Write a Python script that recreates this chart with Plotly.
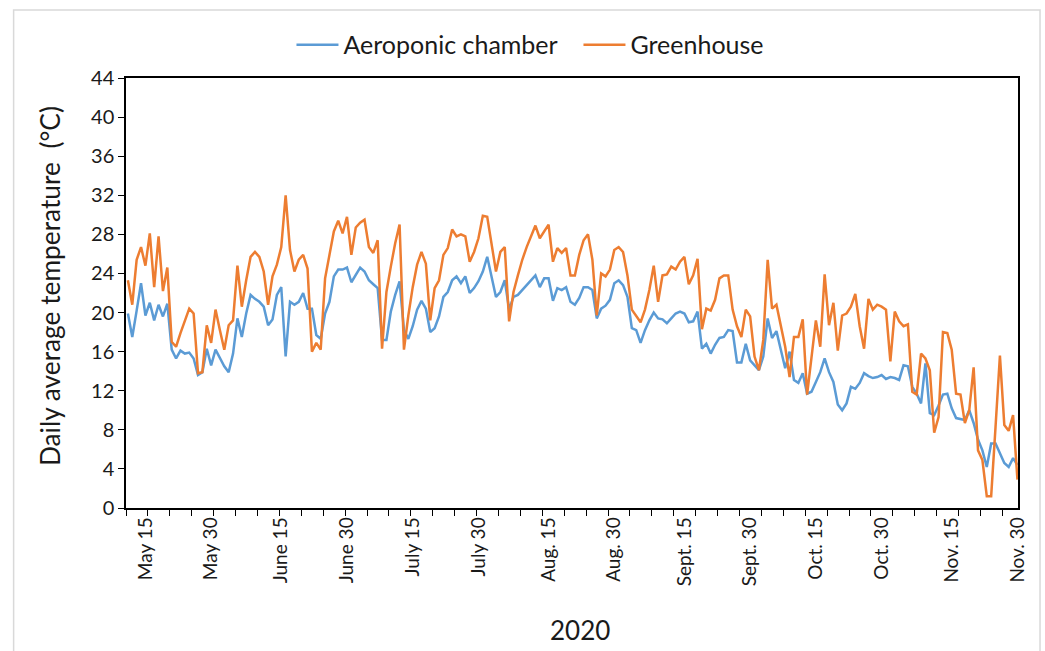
import pandas as pd
import plotly.graph_objects as go

# Daily series, 11 May - 30 Nov 2020
dates = pd.date_range("2020-05-11", "2020-11-30", freq="D")

aeroponic = [
    19.9, 17.5, 20.2, 23.0, 19.7, 21.0, 19.2, 20.8, 19.6, 20.9,
    16.2, 15.3, 16.1, 15.8, 15.9, 15.3, 13.6, 13.9, 16.3, 14.6,
    16.2, 15.3, 14.5, 13.9, 15.8, 19.4, 17.5, 19.9, 21.8, 21.4,
    21.1, 20.6, 18.7, 19.3, 21.8, 22.6, 15.5, 21.1, 20.8, 21.1,
    22.0, 20.4, 20.4, 17.7, 17.3, 19.9, 21.1, 23.7, 24.4, 24.4,
    24.6, 23.1, 23.8, 24.6, 24.2, 23.3, 22.9, 22.5, 17.2, 17.2,
    20.1, 21.8, 23.2, 18.2, 17.3, 18.6, 20.3, 21.2, 20.4, 18.0,
    18.4, 19.6, 21.6, 22.1, 23.3, 23.7, 23.0, 23.7, 22.0, 22.5,
    23.2, 24.2, 25.7, 23.7, 21.6, 22.1, 23.3, 20.3, 21.6, 21.8,
    22.3, 22.8, 23.3, 23.8, 22.6, 23.5, 23.5, 21.2, 22.5, 22.3,
    22.6, 21.1, 20.8, 21.5, 22.6, 22.6, 22.3, 19.4, 20.4, 20.7,
    21.3, 23.0, 23.3, 22.8, 21.6, 18.4, 18.2, 16.9, 18.2, 19.2,
    20.0, 19.4, 19.3, 18.9, 19.4, 19.9, 20.1, 19.9, 19.0, 19.1,
    20.1, 16.3, 16.8, 15.8, 16.7, 17.4, 17.5, 18.2, 18.1, 14.9,
    14.9, 16.8, 15.1, 14.6, 14.1, 15.5, 19.4, 17.4, 18.1, 16.2,
    14.3, 16.0, 13.1, 12.8, 13.8, 11.7, 11.9, 12.9, 13.9, 15.3,
    13.9, 12.9, 10.6, 10.0, 10.7, 12.4, 12.2, 12.8, 13.8, 13.5,
    13.3, 13.4, 13.6, 13.2, 13.4, 13.3, 13.1, 14.6, 14.5, 12.4,
    11.7, 10.7, 14.8, 9.7, 9.5, 10.5, 11.6, 11.7, 10.2, 9.2,
    9.1, 9.0, 10.0, 8.7, 7.0, 5.9, 4.2, 6.6, 6.6, 5.6,
    4.6, 4.2, 5.1, 4.4,
]

greenhouse = [
    23.3, 20.8, 25.4, 26.7, 24.8, 28.1, 22.6, 27.8, 22.2, 24.6,
    17.0, 16.5, 17.9, 19.2, 20.4, 19.9, 13.8, 13.9, 18.7, 16.9,
    20.3, 18.2, 16.2, 18.7, 19.2, 24.8, 20.6, 23.3, 25.7, 26.2,
    25.7, 24.2, 20.8, 23.7, 24.9, 26.7, 32.0, 26.4, 24.2, 25.4,
    25.9, 24.5, 16.0, 16.9, 16.2, 23.5, 25.9, 28.3, 29.4, 28.1,
    29.8, 25.9, 28.7, 29.2, 29.5, 26.7, 26.1, 27.4, 16.3, 22.1,
    24.7, 27.1, 29.0, 16.2, 19.7, 22.6, 24.9, 26.2, 25.0, 19.2,
    22.5, 23.3, 25.9, 26.6, 28.5, 27.8, 28.0, 27.8, 25.2, 26.2,
    27.6, 29.9, 29.8, 27.1, 24.2, 26.2, 26.7, 19.1, 22.1, 23.8,
    25.4, 26.7, 27.8, 28.9, 27.6, 28.3, 29.0, 25.2, 26.6, 26.1,
    26.6, 23.8, 23.8, 25.9, 27.4, 28.0, 25.4, 19.7, 24.0, 23.7,
    24.4, 26.4, 26.7, 26.2, 23.8, 20.3, 19.7, 19.0, 20.3, 22.3,
    24.8, 21.1, 23.8, 23.9, 24.7, 24.4, 25.2, 25.7, 22.9, 23.8,
    25.5, 18.3, 20.4, 20.2, 21.3, 23.5, 23.8, 23.8, 20.3, 18.6,
    17.5, 20.3, 19.6, 15.5, 14.1, 17.2, 25.4, 20.4, 20.8, 18.6,
    16.5, 13.4, 17.5, 17.5, 19.3, 11.6, 15.1, 19.2, 16.5, 23.9,
    18.7, 21.0, 16.1, 19.7, 19.9, 20.6, 21.9, 18.6, 16.3, 21.4,
    20.3, 20.8, 20.6, 20.3, 15.0, 20.1, 19.1, 18.6, 18.8, 11.9,
    11.6, 15.8, 15.3, 14.1, 7.7, 9.3, 18.0, 17.9, 16.2, 11.7,
    11.6, 8.7, 10.0, 14.4, 5.9, 4.9, 1.2, 1.2, 8.3, 15.6,
    8.5, 7.9, 9.5, 2.9,
]

tick_dates = [
    "2020-05-15", "2020-05-30", "2020-06-15", "2020-06-30", "2020-07-15",
    "2020-07-30", "2020-08-15", "2020-08-30", "2020-09-15", "2020-09-30",
    "2020-10-15", "2020-10-30", "2020-11-15", "2020-11-30",
]
tick_labels = [
    "May 15", "May 30", "June 15", "June 30", "July 15", "July 30",
    "Aug. 15", "Aug. 30", "Sept. 15", "Sept. 30", "Oct. 15", "Oct. 30",
    "Nov. 15", "Nov. 30",
]
y_ticks = list(range(0, 45, 4))

FONT = "Lato, Carlito, Calibri, sans-serif"
TEXT = "#1a1a1a"
BLUE = "#5B9BD5"
ORANGE = "#ED7D31"

fig = go.Figure()
fig.add_trace(go.Scatter(
    x=dates, y=aeroponic, mode="lines", name="Aeroponic chamber",
    line=dict(color=BLUE, width=2.5), legendwidth=230,
))
fig.add_trace(go.Scatter(
    x=dates, y=greenhouse, mode="lines", name="Greenhouse",
    line=dict(color=ORANGE, width=2.5),
))

fig.update_layout(
    width=1045, height=651,
    margin=dict(l=126, r=27, t=78, b=143),
    paper_bgcolor="white", plot_bgcolor="white",
    font=dict(family=FONT, color=TEXT),
    showlegend=True,
    legend=dict(
        orientation="h", x=0.1855, xanchor="left", y=1.077, yanchor="middle",
        font=dict(size=25, family=FONT, color=TEXT),
        itemwidth=42, tracegroupgap=0,
    ),
    shapes=[
        # light outer frame around the whole chart
        dict(type="rect", xref="paper", yref="paper",
             x0=-0.126, x1=1.0247, y0=-0.36, y1=1.158,
             line=dict(color="#d9d9d9", width=1.5), layer="below"),
    ],
    annotations=[
        dict(text="Daily average temperature \u00a0(°C)", xref="paper", yref="paper",
             x=-0.0857, y=0.515, textangle=-90, showarrow=False,
             font=dict(size=26.3, family=FONT, color=TEXT),
             xanchor="center", yanchor="middle"),
        dict(text="2020", xref="paper", yref="paper",
             x=0.509, y=-0.284, showarrow=False,
             font=dict(size=26, family=FONT, color=TEXT),
             xanchor="center", yanchor="middle"),
    ],
)

fig.update_xaxes(
    type="date",
    range=["2020-05-10 13:40", "2020-11-30 03:00"],
    tickmode="array", tickvals=tick_dates, ticktext=tick_labels,
    tickangle=-90, ticks="", showgrid=False, zeroline=False,
    tickfont=dict(size=19, family=FONT, color=TEXT),
    showline=True, linecolor="black", linewidth=1.5, mirror=True,
    minor=dict(ticks="outside", ticklen=6, tickwidth=1, tickcolor="black",
               dtick=5 * 86400000, tick0="2020-05-10 13:40", showgrid=False),
)
fig.update_yaxes(
    range=[0, 44], tickmode="array", tickvals=y_ticks,
    ticks="outside", ticklen=6, tickwidth=1, tickcolor="black",
    showgrid=False, zeroline=False,
    tickfont=dict(size=20, family=FONT, color=TEXT),
    showline=True, linecolor="black", linewidth=1.5, mirror=True,
)

fig.write_html("out.html")
